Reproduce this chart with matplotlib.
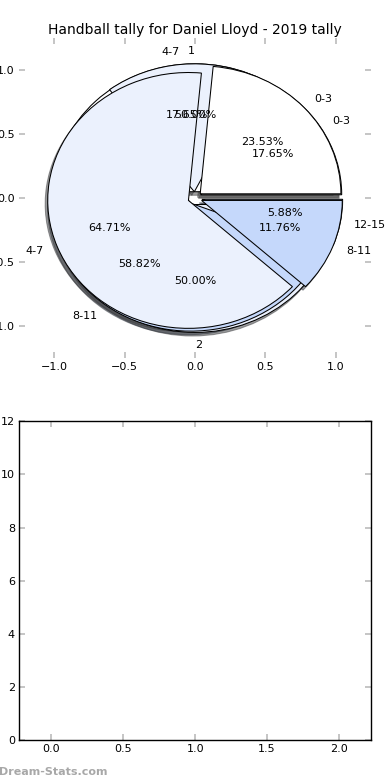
import matplotlib
matplotlib.use('Agg')
import matplotlib.pyplot as plt

# tallies (17 games)
labels_a = ['1', '2']
counts_a = [1, 1]
labels_c = ['0-3', '4-7', '8-11', '12-15']
counts_c = [3, 3, 10, 1]
labels_b = ['0-3', '4-7', '8-11']
counts_b = [4, 11, 2]

colors = ['#ffffff', '#ebf1fd', '#c5d8fb', '#9fbdf6']
ticks = [-1.0, -0.5, 0.0, 0.5, 1.0]

fig = plt.figure(figsize=(3.9, 7.8), dpi=100)
ax1 = fig.add_axes([0.049, 0.541, 0.902, 0.410])
ax2 = fig.add_axes([0.049, 0.051, 0.902, 0.409])

wp = {'edgecolor': 'black', 'linewidth': 0.75}
tp = {'fontsize': 8}
shad = {'ox': -0.013, 'oy': -0.02, 'shade': 0.75}
for lab, cnt in [(labels_a, counts_a), (labels_c, counts_c), (labels_b, counts_b)]:
    ax1.pie(cnt, labels=lab, colors=colors[:len(cnt)], explode=[0.05] * len(cnt),
            autopct='%.2f%%', shadow=shad, wedgeprops=wp, textprops=tp)

ax1.set_aspect('auto')
ax1.set_xlim(-1.25, 1.25)
ax1.set_ylim(-1.25, 1.25)
ax1.set_frame_on(False)
ax1.set_xticks(ticks)
ax1.set_yticks(ticks)
ax1.set_title('Handball tally for Daniel Lloyd - 2019 tally', fontsize=10, pad=3)

ax2.set_xlim(-0.225, 2.222)
ax2.set_ylim(0, 12)
for sp in ax2.spines.values():
    sp.set_linewidth(1.0)

for ax in (ax1, ax2):
    ax.tick_params(direction='in', length=4, width=1.2, color='#bbbbbb',
                   labelsize=8, pad=3, top=True, right=True)

fig.text(-0.003, 0.007, 'Dream-Stats.com', fontsize=8, color='#a8a8a8',
         fontweight='bold')

fig.savefig('out.png', dpi=100)
